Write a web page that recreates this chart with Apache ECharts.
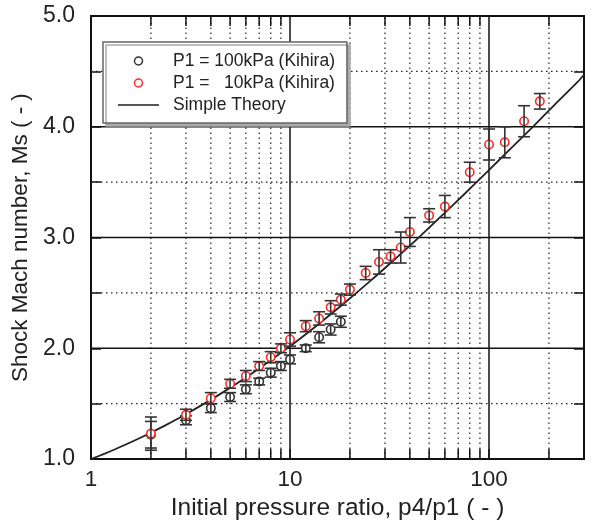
<!DOCTYPE html>
<html>
<head>
<meta charset="utf-8">
<script src="https://cdn.jsdelivr.net/npm/echarts@6/dist/echarts.min.js"></script>
<style>
html,body{margin:0;padding:0;background:#fff;}
#chart{width:592px;height:526px;}
</style>
</head>
<body>
<div id="chart"></div>
<script>
// ---- data ----
const xMinorGrid = [2,3,4,5,6,7,8,9,20,30,40,50,60,70,80,90,200];
const yMinorGrid = [1.5,2.5,3.5,4.5];
const yMajorGrid = [2,3,4];
const xTickLabels = [1,10,100];

// P1 = 100 kPa (Kihira)
const p100 = [2,3,4,5,6,7,8,9,10,12,14,16,18];
const ms100 = [1.22,1.35,1.46,1.56,1.63,1.70,1.78,1.84,1.90,2.00,2.10,2.17,2.24];
const err100 = [0.12,0.04,0.04,0.04,0.04,0.03,0.04,0.04,0.04,0.03,0.05,0.05,0.05];

// P1 = 10 kPa (Kihira)
const p10 = [2,3,4,5,6,7,8,9,10,12,14,16,18,20,24,28,32,36,40,50,60,80,100,120,150,180];
const ms10 = [1.23,1.40,1.55,1.68,1.75,1.84,1.92,2.00,2.08,2.20,2.27,2.37,2.44,2.53,2.68,2.78,2.83,2.91,3.05,3.20,3.28,3.59,3.84,3.86,4.05,4.23];
const err10 = [0.15,0.05,0.05,0.04,0.05,0.04,0.05,0.04,0.06,0.05,0.06,0.06,0.05,0.05,0.06,0.11,0.06,0.14,0.13,0.06,0.10,0.09,0.14,0.14,0.14,0.07];

// Simple Theory curve
const thP = [1,1.173,1.364,1.805,2.336,2.966,4.577,6.76,9.68,13.5,18.5,25.0,33.4,44.3,58.1,75.9,98.7,128,166,214,277,300];
const thM = [1.00,1.05,1.10,1.20,1.30,1.40,1.60,1.80,2.00,2.20,2.40,2.60,2.80,3.00,3.20,3.40,3.60,3.80,4.00,4.20,4.40,4.47];

const X_MIN = 1, X_MAX = 300, Y_MIN = 1, Y_MAX = 5;
const FONT = 'Liberation Sans, Arial, sans-serif';
const TXT = '#222';
const BLACK_SYM = '#333';
const RED_SYM = '#ff2a2a';

const zip = (a, b) => a.map((v, i) => [v, b[i]]);
const zip3 = (a, b, c) => a.map((v, i) => [v, b[i], c[i]]);

function errRender(color) {
  return function (params, api) {
    const x = api.value(0), m = api.value(1), e = api.value(2);
    const top = api.coord([x, m + e]);
    const bot = api.coord([x, m - e]);
    const cap = 6;
    const st = { stroke: color, lineWidth: 1.6 };
    return {
      type: 'group',
      children: [
        { type: 'line', shape: { x1: top[0], y1: top[1], x2: bot[0], y2: bot[1] }, style: st },
        { type: 'line', shape: { x1: top[0] - cap, y1: top[1], x2: top[0] + cap, y2: top[1] }, style: st },
        { type: 'line', shape: { x1: bot[0] - cap, y1: bot[1], x2: bot[0] + cap, y2: bot[1] }, style: st }
      ]
    };
  };
}

function circleRender(color) {
  return function (params, api) {
    const p = api.coord([api.value(0), api.value(1)]);
    return { type: 'circle', shape: { cx: p[0], cy: p[1], r: 4.2 }, style: { fill: '#fff', stroke: color, lineWidth: 1.6 } };
  };
}

const chart = echarts.init(document.getElementById('chart'), null, { renderer: 'canvas' });

const option = {
  animation: false,
  backgroundColor: '#fff',
  textStyle: { fontFamily: FONT },
  grid: { left: 91, right: 8, top: 16, bottom: 66, show: true, borderColor: '#111', borderWidth: 1.8, backgroundColor: 'transparent' },
  legend: {
    orient: 'vertical',
    left: 103, top: 42,
    padding: [10, 12, 9, 14],
    itemGap: 4,
    itemWidth: 41, itemHeight: 8,
    backgroundColor: '#fff',
    borderColor: '#666', borderWidth: 1.5, borderRadius: 0,
    shadowColor: '#aaa', shadowBlur: 0, shadowOffsetX: 3, shadowOffsetY: 3,
    textStyle: { fontFamily: FONT, fontSize: 17.5, color: TXT, lineHeight: 17, padding: [0, 0, 0, 9] },
    data: [
      { name: 'P1 = 100kPa (Kihira)', icon: 'path://M50,5A45,45 0 1,1 49.99,5Z', itemStyle: { color: 'transparent', borderColor: BLACK_SYM, borderWidth: 1.5 } },
      { name: 'P1 =   10kPa (Kihira)', icon: 'path://M50,5A45,45 0 1,1 49.99,5Z', itemStyle: { color: 'transparent', borderColor: RED_SYM, borderWidth: 1.5 } },
      { name: 'Simple Theory', itemStyle: { opacity: 0 }, lineStyle: { color: '#555', width: 2 } }
    ]
  },
  xAxis: [{
    type: 'log', logBase: 10, min: X_MIN, max: X_MAX,
    axisLine: { show: true, lineStyle: { color: '#111', width: 1.8 } },
    axisTick: { show: true, inside: true, length: 10, lineStyle: { color: '#111', width: 1.5 } },
    axisLabel: {
      fontFamily: FONT, fontSize: 22.5, color: TXT, margin: 9, showMaxLabel: false,
      formatter: v => (xTickLabels.indexOf(Math.round(v)) >= 0 ? String(Math.round(v)) : '')
    },
    splitLine: { show: true, lineStyle: { color: '#111', width: 1.5 } },
    name: 'Initial pressure ratio, p4/p1 ( - )',
    nameLocation: 'middle', nameGap: 35,
    nameTextStyle: { fontFamily: FONT, fontSize: 24.5, color: TXT }
  }],
  yAxis: [{
    type: 'value', min: Y_MIN, max: Y_MAX, interval: 0.5,
    axisLine: { show: true, lineStyle: { color: '#111', width: 1.8 } },
    axisTick: { show: true, inside: true, length: 10, lineStyle: { color: '#111', width: 1.5 } },
    axisLabel: {
      fontFamily: FONT, fontSize: 23, color: TXT, margin: 16,
      formatter: v => (Math.abs(v - Math.round(v)) < 1e-6 ? v.toFixed(1) : '')
    },
    splitLine: { show: false },
    name: 'Shock Mach number, Ms ( - )',
    nameLocation: 'middle', nameGap: 52, nameRotate: 90,
    nameTextStyle: { fontFamily: FONT, fontSize: 22.5, color: TXT }
  }, {
    type: 'value', min: Y_MIN, max: Y_MAX, interval: 0.5, position: 'right',
    axisLine: { show: true, lineStyle: { color: '#111', width: 1.8 } },
    axisTick: { show: true, inside: true, length: 10, lineStyle: { color: '#111', width: 1.5 } },
    axisLabel: { show: false },
    splitLine: { show: false }
  }],
  series: [
    {
      name: 'xminor', type: 'custom', silent: true, z: 1,
      xAxisIndex: 0, yAxisIndex: 0, clip: false,
      data: xMinorGrid.map(v => [v, Y_MIN]),
      encode: { x: 0, y: 1 },
      renderItem: function (params, api) {
        const x = api.value(0);
        const b = api.coord([x, Y_MIN]);
        const t = api.coord([x, Y_MAX]);
        return {
          type: 'group', children: [
            { type: 'line', shape: { x1: b[0], y1: b[1], x2: t[0], y2: t[1] }, style: { stroke: '#222', lineWidth: 1.2, lineDash: [1.5, 3.5] } },
            { type: 'line', shape: { x1: b[0], y1: b[1], x2: b[0], y2: b[1] - 10 }, style: { stroke: '#111', lineWidth: 1.5 } },
            { type: 'line', shape: { x1: t[0], y1: t[1], x2: t[0], y2: t[1] + 10 }, style: { stroke: '#111', lineWidth: 1.5 } }
          ]
        };
      }
    },
    {
      name: 'yminor', type: 'custom', silent: true, z: 1,
      xAxisIndex: 0, yAxisIndex: 0,
      data: yMinorGrid.map(v => [X_MIN, v]),
      encode: { x: 0, y: 1 },
      renderItem: function (params, api) {
        const y = api.value(1);
        const l = api.coord([X_MIN, y]);
        const r = api.coord([X_MAX, y]);
        return { type: 'line', shape: { x1: l[0], y1: l[1], x2: r[0], y2: r[1] }, style: { stroke: '#222', lineWidth: 1.2, lineDash: [1.5, 3.5] } };
      }
    },
    {
      name: 'ymajor', type: 'custom', silent: true, z: 1,
      xAxisIndex: 0, yAxisIndex: 0,
      data: yMajorGrid.map(v => [X_MIN, v]),
      encode: { x: 0, y: 1 },
      renderItem: function (params, api) {
        const y = api.value(1);
        const l = api.coord([X_MIN, y]);
        const r = api.coord([X_MAX, y]);
        return { type: 'line', shape: { x1: l[0], y1: l[1], x2: r[0], y2: r[1] }, style: { stroke: '#111', lineWidth: 1.5 } };
      }
    },
    {
      name: 'Simple Theory', type: 'line', z: 3,
      data: zip(thP, thM), smooth: 0.3, showSymbol: false, symbol: 'none',
      lineStyle: { color: '#222', width: 1.8 }, itemStyle: { color: '#555' }
    },
    {
      name: 'P1 = 100kPa (Kihira)', type: 'custom', z: 4, silent: true,
      data: zip(p100, ms100), encode: { x: 0, y: 1 },
      itemStyle: { color: BLACK_SYM },
      renderItem: circleRender(BLACK_SYM)
    },
    {
      name: 'err100', type: 'custom', z: 5, silent: true,
      data: zip3(p100, ms100, err100), encode: { x: 0, y: 1 },
      renderItem: errRender('#333')
    },
    {
      name: 'P1 =   10kPa (Kihira)', type: 'custom', z: 6, silent: true,
      data: zip(p10, ms10), encode: { x: 0, y: 1 },
      itemStyle: { color: RED_SYM },
      renderItem: circleRender(RED_SYM)
    },
    {
      name: 'err10', type: 'custom', z: 7, silent: true,
      data: zip3(p10, ms10, err10), encode: { x: 0, y: 1 },
      renderItem: errRender('#333')
    }
  ]
};
chart.setOption(option);
</script>
</body>
</html>
